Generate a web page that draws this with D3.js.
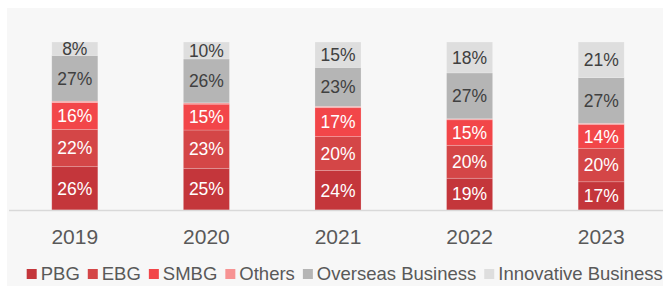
<!DOCTYPE html>
<html>
<head>
<meta charset="utf-8">
<script src="https://cdn.jsdelivr.net/npm/d3@7"></script>
<style>
  html, body { margin: 0; padding: 0; background: #ffffff; }
  svg { display: block; font-family: "Liberation Sans", Arial, sans-serif; }
</style>
</head>
<body>
<svg id="chart" width="663" height="286"></svg>
<script>
// values (share of revenue, %)
const years = ['2019', '2020', '2021', '2022', '2023']
const seriesNames = ['PBG', 'EBG', 'SMBG', 'Others', 'Overseas Business', 'Innovative Business']
const pbg = [25.8, 24.8, 23.5, 18.9, 16.8]
const ebg = [22.2, 22.8, 20.2, 19.6, 19.9]
const smbg = [16.0, 15.4, 17.2, 15.2, 14.3]
const others = [0.8, 0.8, 0.8, 0.6, 0.6]
const overseas = [27.2, 26.1, 23.2, 27.3, 27.2]
const innovative = [8.0, 10.1, 15.1, 18.4, 21.2]
const colors = ['#c4363b', '#d44647', '#f24649', '#f79393', '#b5b5b5', '#dedede']
const labelColors = ['#ffffff', '#ffffff', '#ffffff', null, '#404040', '#404040']

const W = 663, H = 286
const svg = d3.select('#chart')

// light panel
svg.append('rect')
  .attr('x', 7).attr('y', 8).attr('width', W - 7).attr('height', H - 8)
  .attr('fill', '#f7f7f7')

const rows = years.map((y, i) => ({
  year: y,
  'PBG': pbg[i],
  'EBG': ebg[i],
  'SMBG': smbg[i],
  'Others': others[i],
  'Overseas Business': overseas[i],
  'Innovative Business': innovative[i]
}))

const stacked = d3.stack().keys(seriesNames)(rows)

const x = d3.scaleBand().domain(years).range([9, 667]).paddingInner(0.65).paddingOuter(0.325)
const y = d3.scaleLinear().domain([0, 100]).range([210, 42])

const layers = svg.append('g').selectAll('g')
  .data(stacked)
  .join('g')
  .attr('fill', (d, i) => colors[i])

layers.selectAll('rect')
  .data(d => d)
  .join('rect')
  .attr('x', d => x(d.data.year))
  .attr('width', x.bandwidth())
  .attr('y', d => y(d[1]))
  .attr('height', d => y(d[0]) - y(d[1]))
  .attr('stroke', 'rgba(255,255,255,0.25)')
  .attr('stroke-width', 0.75)

// segment labels
stacked.forEach((layer, li) => {
  if (!labelColors[li]) return
  svg.append('g').selectAll('text')
    .data(layer)
    .join('text')
    .attr('x', d => x(d.data.year) + x.bandwidth() / 2)
    .attr('y', d => (y(d[0]) + y(d[1])) / 2)
    .attr('dy', '0.36em')
    .attr('text-anchor', 'middle')
    .attr('font-size', 17.5)
    .attr('fill', labelColors[li])
    .text(d => Math.round(d[1] - d[0]) + '%')
})

// axis
const xAxis = svg.append('g')
  .attr('transform', 'translate(0,210)')
  .call(d3.axisBottom(x).tickSize(0))
xAxis.select('.domain').attr('stroke', '#d9d9d9').attr('stroke-width', 1.5).attr('d', 'M9,0.5H663')
xAxis.selectAll('text')
  .attr('y', 34).attr('dy', null)
  .attr('font-size', 21)
  .attr('fill', '#595959')
  .attr('font-family', '"Liberation Sans", Arial, sans-serif')

// legend
const legend = svg.append('g').attr('transform', 'translate(0,280)')
let lx = 26.7
seriesNames.forEach((name, i) => {
  const g = legend.append('g').attr('transform', `translate(${lx},0)`)
  g.append('rect').attr('x', 0).attr('y', -11).attr('width', 10).attr('height', 10).attr('fill', colors[i])
  const t = g.append('text')
    .attr('x', 14)
    .attr('font-size', 18.5)
    .attr('fill', '#595959')
    .text(name)
  lx += 14 + t.node().getComputedTextLength() + 8
})
</script>
</body>
</html>
